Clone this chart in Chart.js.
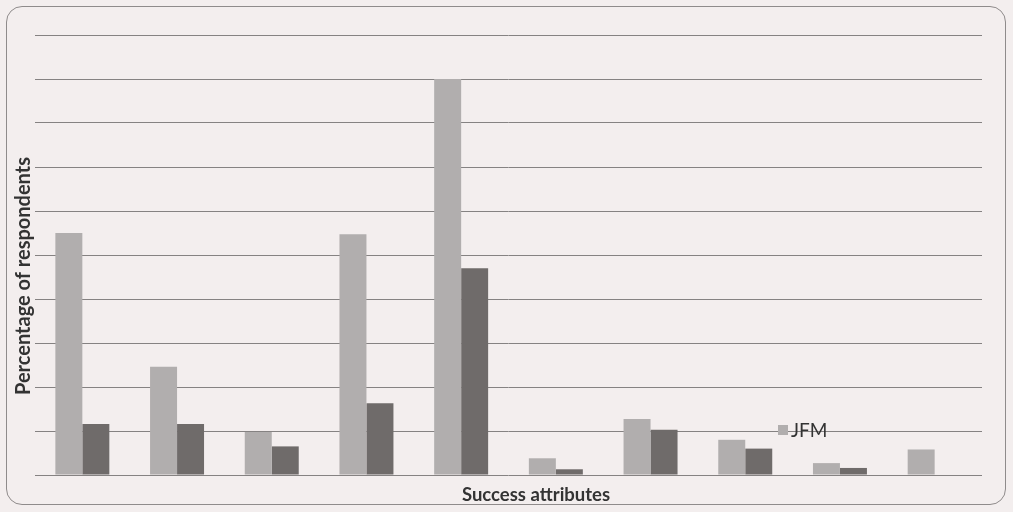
<!DOCTYPE html>
<html>
<head>
<meta charset="utf-8">
<script src="https://cdn.jsdelivr.net/npm/chart.js@4.4.0/dist/chart.umd.min.js"></script>
<style>
    body { margin: 0; background: #f3eeee; }
    #frame {
        position: absolute; left: 6px; top: 6px; width: 998px; height: 497px;
        border: 1px solid #8f8b8b; border-radius: 16px;
    }
    #wrap { position: absolute; left: 0; top: 0; width: 1013px; height: 512px; }
</style>
</head>
<body>
<div id="frame"></div>
<div id="wrap"><canvas id="chart" width="1013" height="512"></canvas></div>
<script>
const categories = ['1', '2', '3', '4', '5', '6', '7', '8', '9', '10'];
const jfmValues = [55, 24.6, 9.8, 54.7, 90, 3.8, 12.7, 8, 2.7, 5.8];
const otherValues = [11.6, 11.6, 6.5, 16.3, 47, 1.3, 10.3, 6, 1.6, 0];
const yTicks = [0, 10, 20, 30, 40, 50, 60, 70, 80, 90, 100];

const xTitle = 'Success attributes';
const yTitle = 'Percentage of respondents';

// titles and the single legend entry, drawn where the scan has them
const labelsPlugin = {
    id: 'labels',
    afterDraw(chart) {
        const ctx = chart.ctx;
        ctx.save();
        ctx.fillStyle = '#333';
        ctx.textAlign = 'center';
        ctx.textBaseline = 'middle';
        ctx.font = 'bold 18.5px Lato';
        ctx.fillText(xTitle, 536, 495);

        ctx.font = 'bold 20px Lato';
        ctx.translate(24, 276);
        ctx.rotate(-Math.PI / 2);
        ctx.fillText(yTitle, 0, 0);
        ctx.restore();

        // legend: first series only
        const ds = chart.data.datasets[0];
        ctx.save();
        ctx.fillStyle = ds.backgroundColor;
        ctx.fillRect(778, 425, 10, 10);
        ctx.fillStyle = '#333';
        ctx.font = '19px Lato';
        ctx.textBaseline = 'middle';
        ctx.fillText(ds.label, 791, 431);
        ctx.restore();
    }
};

new Chart(document.getElementById('chart'), {
    type: 'bar',
    data: {
        labels: categories,
        datasets: [
            { label: 'JFM', data: jfmValues, backgroundColor: '#b1aeae' },
            { label: 'Other', data: otherValues, backgroundColor: '#6f6b6a' }
        ]
    },
    options: {
        responsive: false,
        animation: false,
        events: [],
        layout: { padding: { left: 35, right: 31, top: 35, bottom: 29 } },
        datasets: { bar: { categoryPercentage: 0.57, barPercentage: 1 } },
        plugins: { legend: { display: false }, tooltip: { enabled: false } },
        scales: {
            x: {
                ticks: { display: false },
                grid: { display: false },
                border: { display: false }
            },
            y: {
                min: 0,
                max: 100,
                afterBuildTicks: axis => { axis.ticks = yTicks.map(v => ({ value: v })); },
                ticks: { display: false },
                grid: { color: '#858282', lineWidth: 1, drawTicks: false },
                border: { display: false }
            }
        }
    },
    plugins: [labelsPlugin]
});
</script>
</body>
</html>
